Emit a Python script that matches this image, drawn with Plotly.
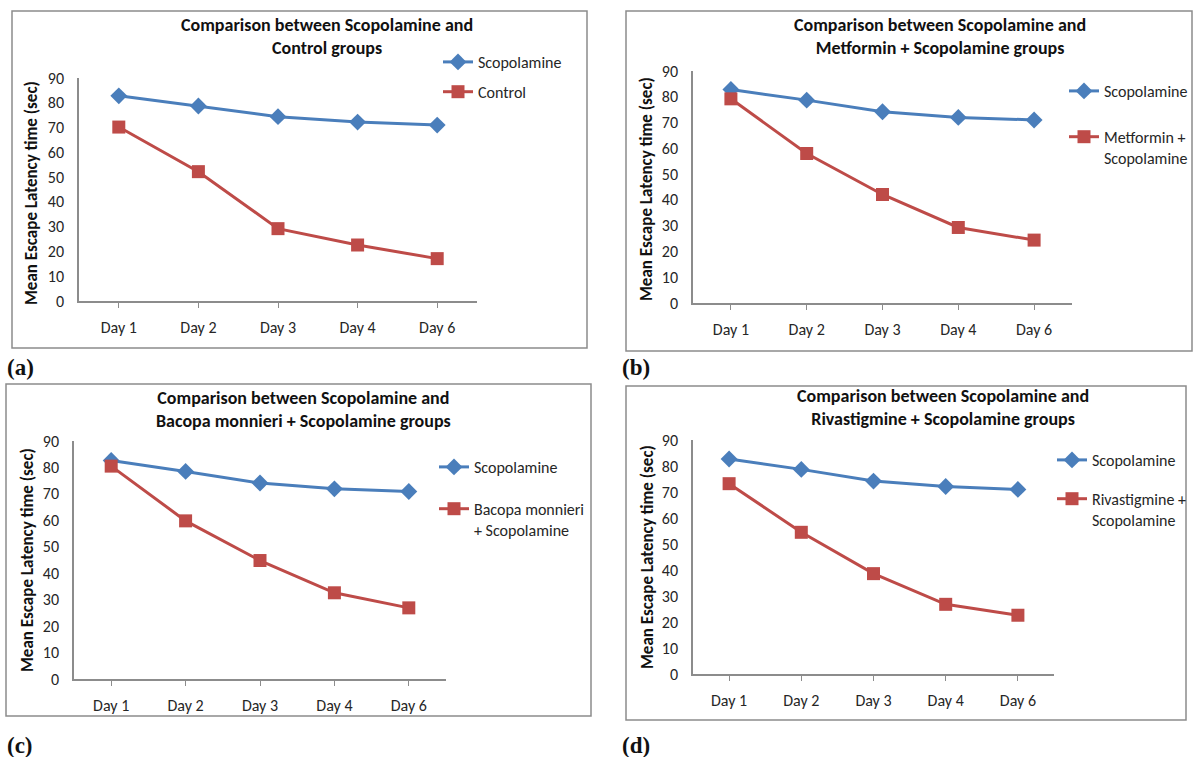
import plotly.graph_objects as go

W, H = 1193, 757

days = ["Day 1", "Day 2", "Day 3", "Day 4", "Day 6"]
y_ticks = [0, 10, 20, 30, 40, 50, 60, 70, 80, 90]

scop_a = [82.8, 78.7, 74.4, 72.2, 71.0]
control_a = [70.2, 52.2, 29.2, 22.6, 17.1]

scop_b = [82.8, 78.7, 74.2, 72.0, 71.0]
metformin_b = [79.2, 58.0, 42.1, 29.3, 24.4]

scop_c = [82.6, 78.5, 74.1, 71.9, 70.9]
bacopa_c = [80.5, 59.8, 44.8, 32.6, 26.9]

scop_d = [82.7, 78.7, 74.2, 72.1, 71.0]
rivastigmine_d = [73.2, 54.5, 38.6, 26.8, 22.6]

panels = [
    dict(scop=scop_a, other=control_a,
         name="Control",
         title="Comparison between Scopolamine and<br>Control groups",
         label="(a)"),
    dict(scop=scop_b, other=metformin_b,
         name="Metformin +<br>Scopolamine",
         title="Comparison between Scopolamine and<br>Metformin + Scopolamine groups",
         label="(b)"),
    dict(scop=scop_c, other=bacopa_c,
         name="Bacopa monnieri<br>+ Scopolamine",
         title="Comparison between Scopolamine and<br>Bacopa monnieri + Scopolamine groups",
         label="(c)"),
    dict(scop=scop_d, other=rivastigmine_d,
         name="Rivastigmine +<br>Scopolamine",
         title="Comparison between Scopolamine and<br>Rivastigmine + Scopolamine groups",
         label="(d)"),
]

# layout geometry in pixels
geom = [
    dict(plot=(79, 477, 78, 301), box=(12, 587, 11, 348), title=(327, 36), ytitle=(32, 193),
         legend=(438, 45), gap=6, lab=(5, 367)),
    dict(plot=(693, 1072, 71, 303), box=(626, 1192, 11, 351), title=(940, 36), ytitle=(647, 189),
         legend=(1064, 74), gap=22, lab=(620, 367)),
    dict(plot=(74, 446, 441, 679), box=(6, 591, 384, 716), title=(303, 409), ytitle=(27, 560),
         legend=(434, 450), gap=18, lab=(5, 745)),
    dict(plot=(693, 1054, 440, 674), box=(626, 1186, 386, 720), title=(943, 407), ytitle=(647, 557),
         legend=(1052, 443), gap=15, lab=(620, 745)),
]

BLUE = "#4A7EBB"
RED = "#BE4B48"
FONT = "Carlito, Lato, sans-serif"
AXC = "#8C8C8C"
TXT = "#262626"

def px(x):
    return x / W

def py(y):
    return 1 - y / H

fig = go.Figure()
layout = dict(width=W, height=H, margin=dict(l=0, r=0, t=0, b=0, pad=0, autoexpand=False),
              paper_bgcolor="white", plot_bgcolor="white",
              font=dict(family=FONT, color=TXT, size=16),
              shapes=[], annotations=[])

for i, (p, g) in enumerate(zip(panels, geom)):
    n = i + 1
    xa = "x" if n == 1 else f"x{n}"
    ya = "y" if n == 1 else f"y{n}"
    leg = "legend" if n == 1 else f"legend{n}"
    fig.add_trace(go.Scatter(x=days, y=p["scop"], name="Scopolamine", mode="lines+markers",
                             xaxis=xa, yaxis=ya, legend=leg, legendgroup=f"s{n}",
                             line=dict(color=BLUE, width=3),
                             marker=dict(symbol="diamond", size=13, color=BLUE)))
    fig.add_trace(go.Scatter(x=days, y=p["other"], name=p["name"], mode="lines+markers",
                             xaxis=xa, yaxis=ya, legend=leg, legendgroup=f"o{n}",
                             line=dict(color=RED, width=3),
                             marker=dict(symbol="square", size=13, color=RED)))
    x0, x1, y0, y1 = g["plot"]
    xkey = "xaxis" if n == 1 else f"xaxis{n}"
    ykey = "yaxis" if n == 1 else f"yaxis{n}"
    layout[xkey] = dict(domain=[px(x0), px(x1)], anchor=ya, type="category",
                        range=[-0.5, 4.5], showline=True, linecolor=AXC, linewidth=1.5,
                        ticks="outside", ticklen=5, tickcolor=AXC, showgrid=False,
                        zeroline=False, ticklabelstandoff=6, automargin=False,
                        tickfont=dict(size=16, family=FONT, color=TXT),
                        fixedrange=True)
    layout[ykey] = dict(domain=[py(y1), py(y0)], anchor=xa, range=[0, 90],
                        tickvals=y_ticks, showline=True, linecolor=AXC, linewidth=1.5,
                        ticks="", showgrid=False, zeroline=False, ticklabelstandoff=10,
                        automargin=False,
                        tickfont=dict(size=16, family=FONT, color=TXT), fixedrange=True)
    lx, ly = g["legend"]
    layout[leg] = dict(x=px(lx), y=py(ly), xanchor="left", yanchor="top",
                       bgcolor="rgba(0,0,0,0)", font=dict(size=16, family=FONT, color=TXT),
                       tracegroupgap=g["gap"], itemwidth=30, traceorder="grouped",
                       valign="top")
    bx0, bx1, by0, by1 = g["box"]
    layout["shapes"].append(dict(type="rect", xref="paper", yref="paper",
                                 x0=px(bx0), x1=px(bx1), y0=py(by1), y1=py(by0),
                                 line=dict(color="#8C8C8C", width=1.5)))
    tx, ty = g["title"]
    layout["annotations"].append(dict(text="<b>" + p["title"] + "</b>", x=px(tx), y=py(ty),
                                      xref="paper", yref="paper", showarrow=False,
                                      font=dict(size=18, family=FONT, color="#111"),
                                      xanchor="center", yanchor="middle"))
    yx, yy = g["ytitle"]
    layout["annotations"].append(dict(text="<b>Mean Escape Latency time (sec)</b>",
                                      x=px(yx), y=py(yy), xref="paper", yref="paper",
                                      showarrow=False, textangle=-90,
                                      font=dict(size=17, family=FONT, color="#111"),
                                      xanchor="center", yanchor="middle"))
    lbx, lby = g["lab"]
    layout["annotations"].append(dict(text="<b>" + p["label"] + "</b>", x=px(lbx), y=py(lby),
                                      xref="paper", yref="paper", showarrow=False,
                                      font=dict(size=23, family="Liberation Serif, serif", color="#111"),
                                      xanchor="left", yanchor="middle"))

fig.update_layout(**layout)
fig.update_layout(showlegend=True)
fig.write_html("out.html", config={"displayModeBar": False},
               post_script="document.body.style.margin='0';")
